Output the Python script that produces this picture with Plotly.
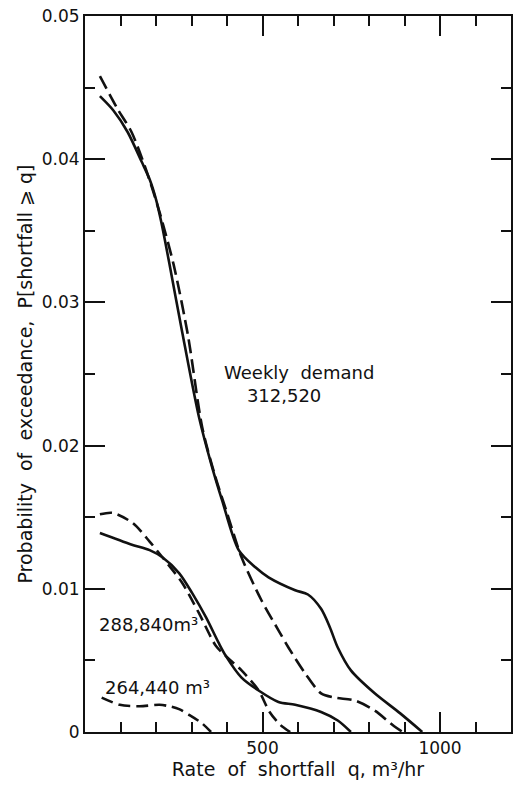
import plotly.graph_objects as go

# Weekly demand 312,520 m3
q_312_solid = [42, 80, 120, 160, 182, 200, 215, 237, 274, 321, 358, 386, 433, 480, 517, 592, 628, 665, 690, 712, 749, 816, 888, 950]
p_312_solid = [0.0444, 0.0434, 0.0419, 0.0398, 0.0386, 0.0372, 0.0356, 0.0328, 0.0279, 0.0220, 0.0185, 0.0162, 0.0127, 0.0115, 0.0108, 0.0099, 0.0096, 0.0086, 0.0073, 0.0059, 0.0043, 0.0027, 0.0013, 0.0]
q_312_dash = [42, 92, 131, 170, 210, 250, 290, 330, 365, 400, 441, 497, 545, 573, 620, 665, 704, 760, 816, 871, 895]
p_312_dash = [0.0458, 0.0435, 0.0419, 0.0394, 0.0363, 0.0326, 0.0277, 0.0213, 0.0180, 0.0153, 0.0122, 0.0092, 0.0071, 0.0059, 0.0041, 0.0027, 0.0024, 0.0022, 0.0015, 0.0004, 0.0]

# Weekly demand 288,840 m3
q_288_solid = [42, 130, 182, 218, 265, 302, 341, 377, 397, 441, 489, 545, 592, 665, 712, 749]
p_288_solid = [0.0139, 0.0131, 0.0127, 0.0122, 0.0111, 0.0097, 0.0080, 0.0062, 0.0053, 0.0038, 0.0029, 0.0021, 0.0019, 0.0014, 0.0008, 0.0]
q_288_dash = [42, 78, 134, 182, 218, 274, 321, 369, 397, 441, 489, 520, 550, 578]
p_288_dash = [0.0152, 0.0153, 0.0146, 0.0133, 0.0122, 0.0104, 0.0083, 0.0060, 0.0053, 0.0043, 0.0029, 0.0014, 0.0005, 0.0]

# Weekly demand 264,440 m3
q_264_dash = [47, 98, 154, 210, 237, 265, 293, 330, 355]
p_264_dash = [0.0024, 0.0019, 0.0018, 0.0019, 0.0018, 0.0016, 0.0012, 0.0006, 0.0]

x_ticks = [500, 1000]
x_tick_labels = ["500", "1000"]
y_ticks = [0, 0.01, 0.02, 0.03, 0.04, 0.05]
y_tick_labels = ["0", "0.01", "0.02", "0.03", "0.04", "0.05"]

FONT = "DejaVu Sans"
BLACK = "#111111"
NB = "\u00a0"

fig = go.Figure()

def add(q, p, dash):
    fig.add_trace(go.Scatter(
        x=q, y=p, mode="lines",
        line=dict(color=BLACK, width=2.6, dash=dash, shape="spline", smoothing=0.8),
        showlegend=False, hoverinfo="skip"))

add(q_312_solid, p_312_solid, "solid")
add(q_312_dash, p_312_dash, "14px,6px")
add(q_288_solid, p_288_solid, "solid")
add(q_288_dash, p_288_dash, "12px,6px")
add(q_264_dash, p_264_dash, "12px,6px")

annos = [
    ("Weekly" + NB * 2 + "demand<br>" + NB * 4 + "312,520", 387, 0.0243),
    ("288,840m³", 34, 0.0075),
    ("264,440" + NB + "m³", 50, 0.0031),
]
for txt, x, y in annos:
    fig.add_annotation(x=x, y=y, text=txt, showarrow=False, xanchor="left", yanchor="middle",
                       align="left", font=dict(family=FONT, size=18, color=BLACK))

fig.update_layout(
    width=513, height=785,
    margin=dict(l=85, r=0, t=16, b=53),
    paper_bgcolor="white", plot_bgcolor="white",
    font=dict(family=FONT, size=16, color=BLACK),
    xaxis=dict(
        range=[0, 1200], showgrid=False, zeroline=False,
        showline=True, linecolor=BLACK, linewidth=2, mirror="ticks",
        ticks="inside", ticklen=20, tickwidth=2, tickcolor=BLACK,
        tickmode="array", tickvals=x_ticks, ticktext=x_tick_labels,
        minor=dict(ticks="inside", ticklen=10, tickwidth=2, tickcolor=BLACK, dtick=100, tick0=0, showgrid=False),
        title=dict(text="Rate" + NB + " of" + NB + " shortfall" + NB + " q," + NB + "m³/hr",
                   font=dict(family=FONT, size=19), standoff=4),
        tickfont=dict(family=FONT, size=17),
    ),
    yaxis=dict(
        range=[0, 0.05], showgrid=False, zeroline=False,
        showline=True, linecolor=BLACK, linewidth=2, mirror="ticks",
        ticks="inside", ticklen=20, tickwidth=2, tickcolor=BLACK,
        tickmode="array", tickvals=y_ticks, ticktext=y_tick_labels,
        minor=dict(ticks="inside", ticklen=10, tickwidth=2, tickcolor=BLACK, dtick=0.005, tick0=0, showgrid=False),
        title=dict(text="Probability" + NB + " of" + NB + " exceedance," + NB + " P[shortfall ⩾ q]",
                   font=dict(family=FONT, size=19), standoff=4),
        tickfont=dict(family=FONT, size=17),
    ),
)

fig.write_html("out.html")
